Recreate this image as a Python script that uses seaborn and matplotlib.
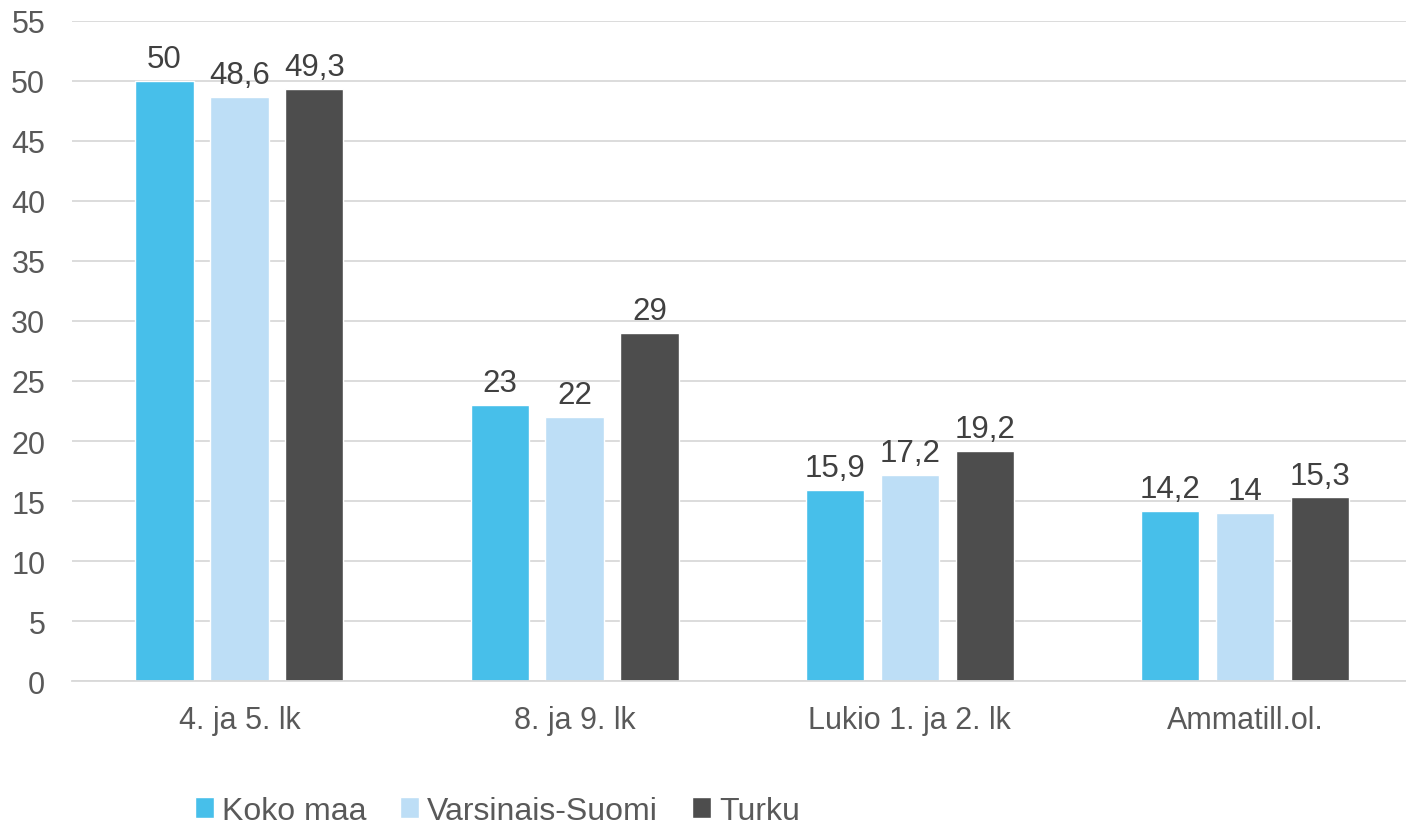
import pandas as pd
import seaborn as sns
import matplotlib.pyplot as plt

categories = ['4. ja 5. lk', '8. ja 9. lk', 'Lukio 1. ja 2. lk', 'Ammatill.ol.']
series = ['Koko maa', 'Varsinais-Suomi', 'Turku']
koko_maa = [50, 23, 15.9, 14.2]
varsinais_suomi = [48.6, 22, 17.2, 14]
turku = [49.3, 29, 19.2, 15.3]
colors = ['#47BFEA', '#BDDEF6', '#4D4D4D']

rows = []
for name, vals in zip(series, [koko_maa, varsinais_suomi, turku]):
    for c, v in zip(categories, vals):
        rows.append({'cat': c, 'series': name, 'value': v})
df = pd.DataFrame(rows)

sns.set_style('white')
plt.rcParams['font.family'] = ['Liberation Sans', 'DejaVu Sans']
txt = '#595959'

fig = plt.figure(figsize=(14.06, 8.29), dpi=100)
ax = fig.add_axes([0.051, 0.177, 0.949, 0.797])
sns.barplot(data=df, x='cat', y='value', hue='series', palette=colors,
            width=0.67, gap=0.22, ax=ax, saturation=1, errorbar=None)

for cont in ax.containers:
    labels = [f'{v:g}'.replace('.', ',') for v in cont.datavalues]
    ax.bar_label(cont, labels=labels, padding=5, fontsize=22.5, color='#404040')

ax.set_ylim(0, 55)
ax.set_xlim(-0.5, 3.48)
ax.set_yticks(range(0, 56, 5))
ax.yaxis.grid(True, color='#D9D9D9', linewidth=1.3)
ax.set_axisbelow(True)
for s in ['top', 'right', 'left']:
    ax.spines[s].set_visible(False)
ax.spines['bottom'].set_color('#D9D9D9')
ax.spines['bottom'].set_linewidth(1.3)
ax.tick_params(axis='both', length=0, labelsize=22, labelcolor=txt)
ax.tick_params(axis='y', pad=19)
ax.tick_params(axis='x', pad=17)
ax.set_xlabel('')
ax.set_ylabel('')

ax.legend(loc='center', bbox_to_anchor=(0.319, -0.196), ncol=3, frameon=False,
          fontsize=23, labelcolor=txt, handlelength=0.6, handleheight=0.6,
          handletextpad=0.25, columnspacing=1.05, borderpad=0.2)

fig.savefig('out.png', dpi=100)
